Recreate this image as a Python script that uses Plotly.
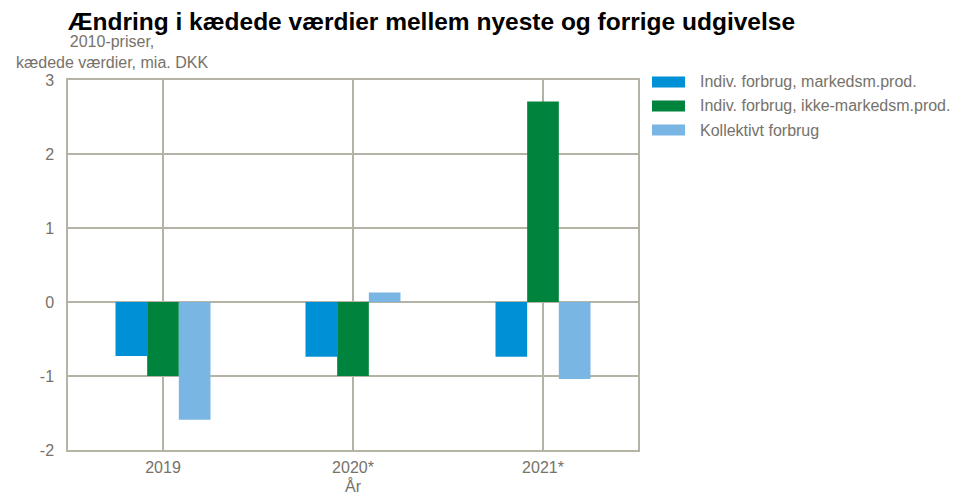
import plotly.graph_objects as go

categories = ["2019", "2020*", "2021*"]
series_names = ["Indiv. forbrug, markedsm.prod.", "Indiv. forbrug, ikke-markedsm.prod.", "Kollektivt forbrug"]
marked = [-0.73, -0.74, -0.74]
ikke_marked = [-1.0, -1.0, 2.71]
kollektiv = [-1.59, 0.13, -1.04]
y_ticks = [-2, -1, 0, 1, 2, 3]
y_tick_labels = ["-2", "-1", "0", "1", "2", "3"]

colors = ["#0090d6", "#00843d", "#7ab6e4"]
grid = "#b5b2a6"
txt = "#76726a"
font = "Liberation Sans, Arial, sans-serif"
fs = 16

fig = go.Figure()
for name, vals, c in zip(series_names, [marked, ikke_marked, kollektiv], colors):
    fig.add_trace(go.Bar(x=categories, y=vals, name=name, marker=dict(color=c, line=dict(width=0)),
                         showlegend=False, hoverinfo="y+name"))

fig.update_layout(
    width=968, height=497,
    margin=dict(l=68, r=330, t=80, b=47, autoexpand=False),
    paper_bgcolor="white", plot_bgcolor="white",
    barmode="group", bargap=0.5, bargroupgap=0,
    font=dict(family=font, size=fs, color=txt),
    title=dict(text="<b>Ændring i kædede værdier mellem nyeste og forrige udgivelse</b>",
               x=68/968, xanchor="left", y=1-21/497, yanchor="middle",
               font=dict(family=font, size=24.5, color="black")),
    xaxis=dict(showgrid=True, gridcolor=grid, gridwidth=1.5, showline=True, linecolor=grid, linewidth=1.5,
               mirror=True, ticks="", tickfont=dict(size=fs, color=txt), automargin=False,
               ticklabelstandoff=2,
               title=dict(text="År", font=dict(size=fs, color=txt), standoff=6)),
    yaxis=dict(range=[-2, 3], tickvals=y_ticks, ticktext=y_tick_labels, showgrid=True, gridcolor=grid,
               gridwidth=1.5, automargin=False,
               showline=True, linecolor=grid, linewidth=1.5, mirror=True, zeroline=True,
               zerolinecolor=grid, zerolinewidth=1.5, ticks="", tickfont=dict(size=fs, color=txt),
               ticklabelstandoff=9),
)

fig.add_annotation(text="2010-priser,<br>kædede værdier, mia. DKK", xref="paper", yref="paper",
                   x=(112-68)/570, y=1 + (80-52)/370, xanchor="center", yanchor="middle",
                   showarrow=False, align="center", font=dict(size=fs, color=txt))

# legend drawn manually
for i, (name, c) in enumerate(zip(series_names, colors)):
    yc = 82 + 24*i
    fig.add_shape(type="rect", xref="paper", yref="paper",
                  x0=(652-68)/570, x1=(685-68)/570,
                  y0=(450-(yc-5.5))/370, y1=(450-(yc+5.5))/370,
                  fillcolor=c, line=dict(width=0))
    fig.add_annotation(text=name, xref="paper", yref="paper", x=(698-68)/570, y=(450-yc)/370,
                       xanchor="left", yanchor="middle", showarrow=False,
                       font=dict(size=fs, color=txt))

fig.write_html("out.html", config={"displayModeBar": False},
               post_script="document.body.style.margin='0px';")
